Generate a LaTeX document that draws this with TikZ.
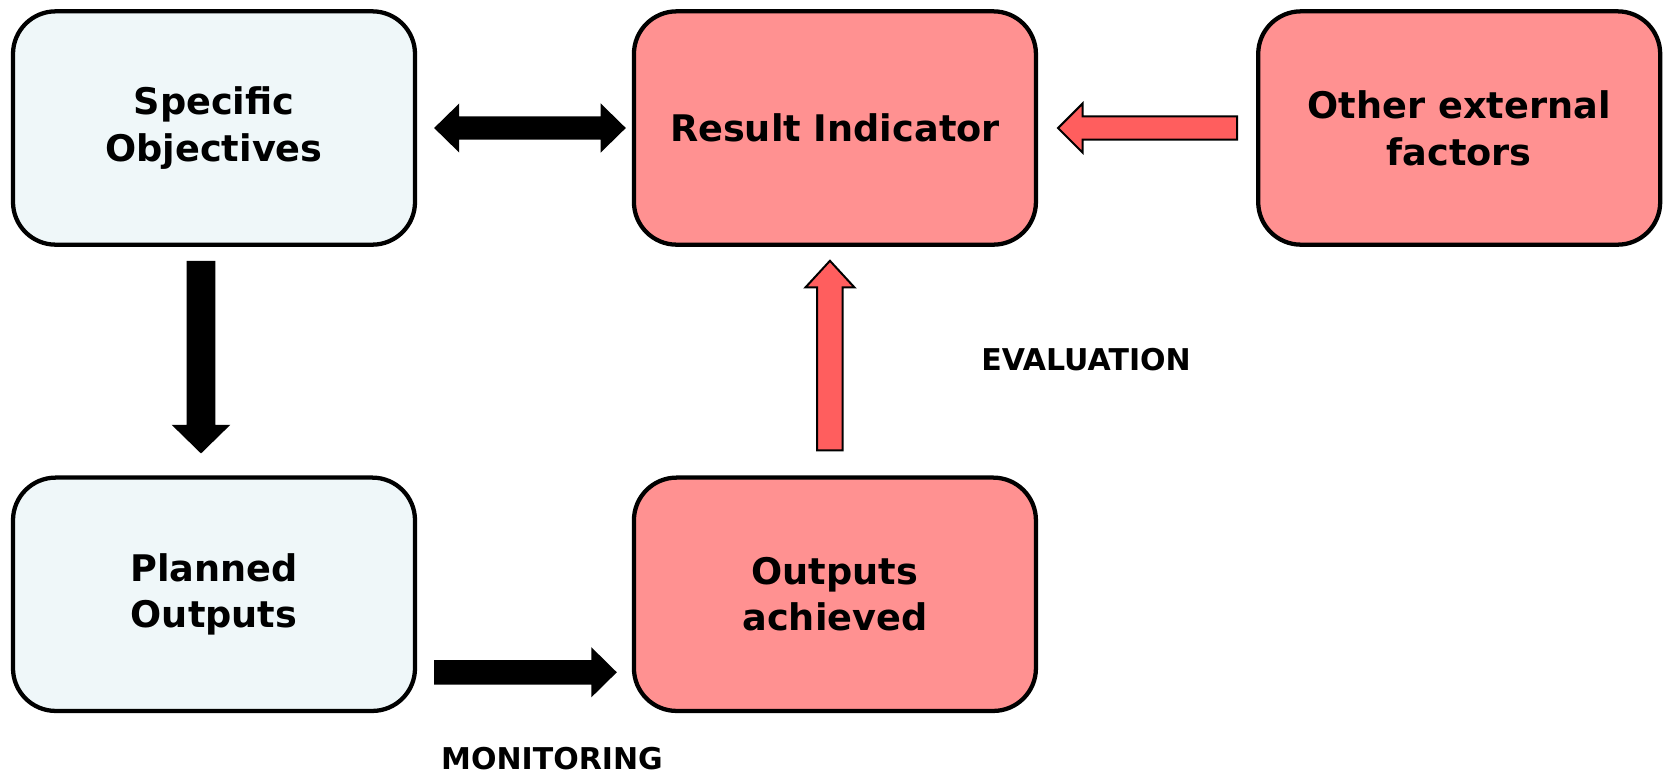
\documentclass[tikz,border=0pt]{standalone}
\usepackage{fontspec}
\setmainfont{DejaVu Sans}
\usepackage{tikz}
\usetikzlibrary{positioning,calc}
\definecolor{paleBlue}{RGB}{239, 247, 249}
\definecolor{boxPink}{RGB}{255, 145, 145}
\definecolor{arrowRed}{RGB}{255, 94, 94}

\tikzset{
  % one-headed block arrow: shaft half width, head half width, head length
  blockarrow/.style n args={3}{to path={
    let \p1=(\tikztostart), \p2=(\tikztotarget),
        \n1={atan2(\y2-\y1,\x2-\x1)} in
    ($(\p1)+(\n1+90:#1)$)
    -- ($(\p2)+(\n1+180:#3)+(\n1+90:#1)$)
    -- ($(\p2)+(\n1+180:#3)+(\n1+90:#2)$)
    -- (\p2)
    -- ($(\p2)+(\n1+180:#3)+(\n1-90:#2)$)
    -- ($(\p2)+(\n1+180:#3)+(\n1-90:#1)$)
    -- ($(\p1)+(\n1-90:#1)$) -- cycle}},
  % two-headed block arrow
  dblarrow/.style n args={3}{to path={
    let \p1=(\tikztostart), \p2=(\tikztotarget),
        \n1={atan2(\y2-\y1,\x2-\x1)} in
    (\p1)
    -- ($(\p1)+(\n1:#3)+(\n1+90:#2)$)
    -- ($(\p1)+(\n1:#3)+(\n1+90:#1)$)
    -- ($(\p2)+(\n1+180:#3)+(\n1+90:#1)$)
    -- ($(\p2)+(\n1+180:#3)+(\n1+90:#2)$)
    -- (\p2)
    -- ($(\p2)+(\n1+180:#3)+(\n1-90:#2)$)
    -- ($(\p2)+(\n1+180:#3)+(\n1-90:#1)$)
    -- ($(\p1)+(\n1:#3)+(\n1-90:#1)$)
    -- ($(\p1)+(\n1:#3)+(\n1-90:#2)$) -- cycle}},
  box/.style={draw, line width=3.2pt, rounded corners=32pt,
    minimum width=301.5pt, minimum height=175pt, align=center,
    font=\bfseries\fontsize{27.5}{35}\selectfont},
  bluebox/.style={box, fill=paleBlue},
  pinkbox/.style={box, fill=boxPink},
  blackfill/.style={fill=black},
  redfill/.style={fill=arrowRed, draw=black, line width=1.5pt, line join=miter},
  steplabel/.style={inner sep=1pt, font=\bfseries\fontsize{22.5}{27}\selectfont}
}

\begin{document}
\begin{tikzpicture}[x=0.75pt, y=-0.75pt]
      \useasboundingbox (0,0) rectangle (1669,776);

      % top row
      \node[bluebox] (so) at (214,128) {Specific\\Objectives};
      \node[pinkbox, right=161pt of so] (ri) {Result Indicator};
      \node[pinkbox, right=163.5pt of ri] (oe) {Other external\\factors};

      % bottom row
      \node[bluebox, below=171.5pt of so] (po) {Planned\\Outputs};
      \node[pinkbox, below=171.5pt of ri] (oa) {Outputs\\achieved};

      % arrow ends
      \coordinate (so-r) at ($(so.east)+(17,0)$);
      \coordinate (ri-l) at ($(ri.west)+(-6,0)$);
      \coordinate (oe-l) at ($(oe.west)+(-19,0)$);
      \coordinate (ri-r) at ($(ri.east)+(20,0)$);
      \coordinate (so-b) at ($(so.south)+(-13,14)$);
      \coordinate (po-t) at ($(po.north)+(-13,-22)$);
      \coordinate (oa-t) at ($(oa.north)+(-5,-25)$);
      \coordinate (ri-b) at ($(ri.south)+(-5,14)$);
      \coordinate (po-r) at ($(po.east)+(17,78)$);
      \coordinate (oa-l) at ($(oa.west)+(-15,78)$);

      \fill[blackfill] (so-r) to[dblarrow={8.8pt}{18.4pt}{18.8pt}] (ri-l);
      \fill[blackfill] (so-b) to[blockarrow={10.8pt}{22pt}{21.5pt}] (po-t);
      \fill[blackfill] (po-r) to[blockarrow={9.2pt}{18.8pt}{19.1pt}] (oa-l);
      \filldraw[redfill] (oe-l) to[blockarrow={8.8pt}{18.4pt}{18.4pt}] (ri-r);
      \filldraw[redfill] (oa-t) to[blockarrow={9.6pt}{18.4pt}{20pt}] (ri-b);

      \node[steplabel] (eval) at (1086,360) {EVALUATION};
      \node[steplabel] (mon) at (552,759) {MONITORING};
\end{tikzpicture}
\end{document}
